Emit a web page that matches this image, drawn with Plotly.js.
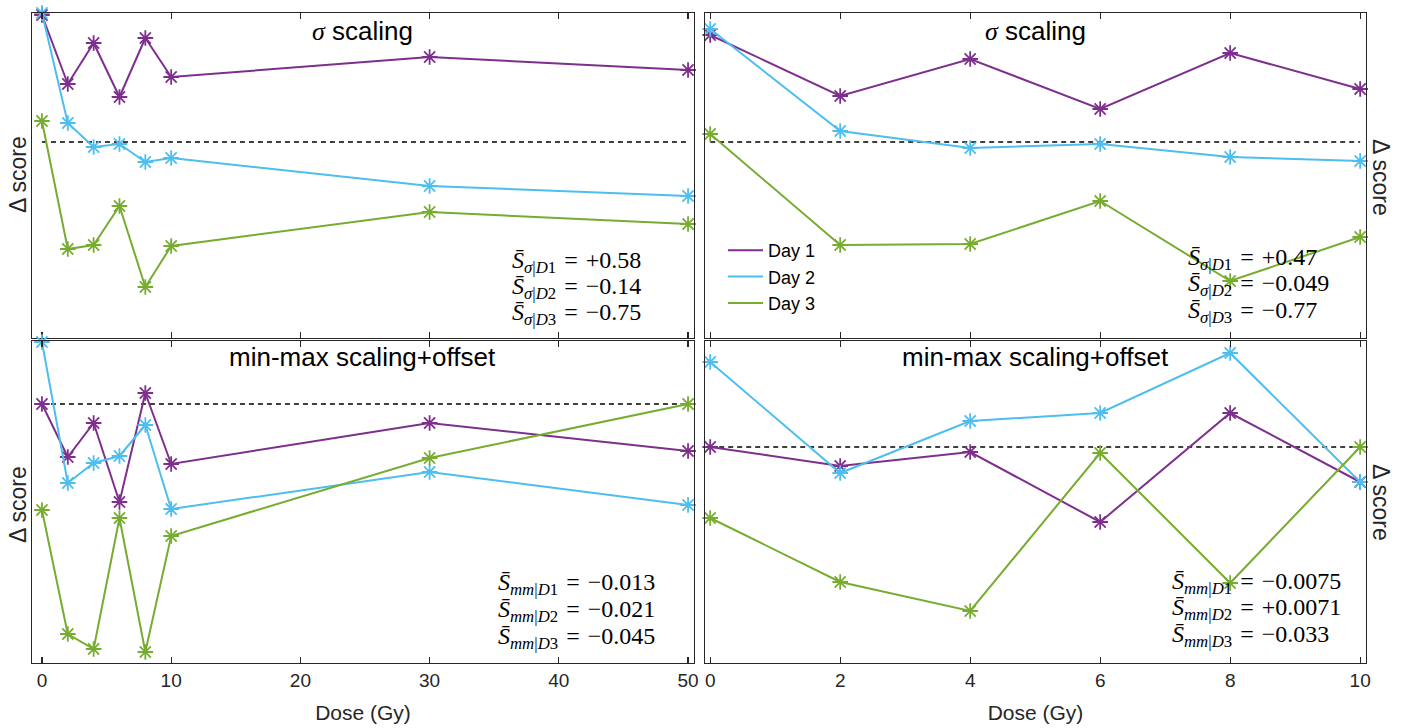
<!DOCTYPE html>
<html>
<head>
<meta charset="utf-8">
<script src="https://cdn.plot.ly/plotly-3.0.1.min.js"></script>
<style>
  html, body { margin: 0; padding: 0; background: #fff; }
  #chart { width: 1408px; height: 728px; }
</style>
</head>
<body>
<div id="chart"></div>
<script>
// Dose levels (Gy)
const doseWide = [0, 2, 4, 6, 8, 10, 30, 50];
const doseNarrow = [0, 2, 4, 6, 8, 10];

// Δ score, sigma scaling, full dose range
const sigmaWideDay1 = [1.27, 0.58, 0.99, 0.45, 1.04, 0.65, 0.85, 0.72];
const sigmaWideDay2 = [1.29, 0.19, -0.05, -0.02, -0.20, -0.16, -0.44, -0.54];
const sigmaWideDay3 = [0.21, -1.07, -1.03, -0.64, -1.45, -1.04, -0.70, -0.82];

// Δ score, sigma scaling, 0-10 Gy
const sigmaNarrowDay1 = [1.07, 0.46, 0.83, 0.33, 0.89, 0.53];
const sigmaNarrowDay2 = [1.13, 0.11, -0.06, -0.02, -0.15, -0.19];
const sigmaNarrowDay3 = [0.08, -1.03, -1.02, -0.59, -1.39, -0.95];

// Δ score, min-max scaling + offset, full dose range
const mmWideDay1 = [0.00, -0.53, -0.19, -0.98, 0.11, -0.60, -0.19, -0.47];
const mmWideDay2 = [0.62, -0.79, -0.59, -0.52, -0.21, -1.05, -0.68, -1.01];
const mmWideDay3 = [-1.06, -2.30, -2.45, -1.14, -2.48, -1.32, -0.54, 0.00];

// Δ score, min-max scaling + offset, 0-10 Gy
const mmNarrowDay1 = [0.00, -0.19, -0.05, -0.75, 0.34, -0.35];
const mmNarrowDay2 = [0.85, -0.26, 0.26, 0.34, 0.94, -0.35];
const mmNarrowDay3 = [-0.71, -1.35, -1.64, -0.06, -1.36, 0.00];

// Mean score per day, printed in each panel
const sigmaWideMeans = ["+0.58", "\u22120.14", "\u22120.75"];
const sigmaNarrowMeans = ["+0.47", "\u22120.049", "\u22120.77"];
const mmWideMeans = ["\u22120.013", "\u22120.021", "\u22120.045"];
const mmNarrowMeans = ["\u22120.0075", "+0.0071", "\u22120.033"];

const dayNames = ["Day 1", "Day 2", "Day 3"];
const dayColors = ["#7E2F8E", "#4DBEEE", "#77AC30"];

const W = 1408, H = 728;
const px = v => v / W;
const py = v => 1 - v / H;

const panels = [
  { ax: "", dose: doseWide, days: [sigmaWideDay1, sigmaWideDay2, sigmaWideDay3],
    means: sigmaWideMeans, sym: "<i>\u03c3</i>", legend: false },
  { ax: "2", dose: doseNarrow, days: [sigmaNarrowDay1, sigmaNarrowDay2, sigmaNarrowDay3],
    means: sigmaNarrowMeans, sym: "<i>\u03c3</i>", legend: true },
  { ax: "3", dose: doseWide, days: [mmWideDay1, mmWideDay2, mmWideDay3],
    means: mmWideMeans, sym: "<i>mm</i>", legend: false },
  { ax: "4", dose: doseNarrow, days: [mmNarrowDay1, mmNarrowDay2, mmNarrowDay3],
    means: mmNarrowMeans, sym: "<i>mm</i>", legend: false }
];

const traces = [];
panels.forEach(p => {
  const xa = "x" + p.ax, ya = "y" + p.ax;
  // zero reference
  traces.push({
    x: [p.dose[0], p.dose[p.dose.length - 1]], y: [0, 0],
    xaxis: xa, yaxis: ya, mode: "lines", showlegend: false, hoverinfo: "skip",
    line: { color: "#000", width: 1.4, dash: "5px,4px" }
  });
  p.days.forEach((vals, i) => {
    traces.push({
      x: p.dose, y: vals, xaxis: xa, yaxis: ya, mode: "lines",
      name: dayNames[i], showlegend: p.legend,
      line: { color: dayColors[i], width: 2 }, cliponaxis: false
    });
    traces.push({
      x: p.dose, y: vals, xaxis: xa, yaxis: ya, mode: "markers",
      showlegend: false, cliponaxis: false,
      marker: { symbol: "asterisk-open", size: 13, color: dayColors[i],
                line: { color: dayColors[i], width: 1.8 } }
    });
  });
});

const sansFont = "Liberation Sans, Arial, sans-serif";
const serifFont = "Liberation Serif, Times New Roman, serif";
const axisColor = "#262626";

const xCommon = {
  showline: true, linecolor: axisColor, linewidth: 1.3, mirror: "ticks",
  ticks: "inside", ticklen: 6, tickwidth: 1.3, tickcolor: axisColor,
  showgrid: false, zeroline: false,
  tickfont: { family: sansFont, size: 19, color: axisColor }
};
const yCommon = {
  showline: true, linecolor: axisColor, linewidth: 1.3, mirror: true,
  ticks: "", showticklabels: false, showgrid: false, zeroline: false
};

const leftDom = [px(32), px(694)];
const rightDom = [px(705), px(1366)];
const topDom = [py(338), py(13)];
const botDom = [py(663), py(341)];
const wideRange = [-0.77, 50.46];
const narrowRange = [-0.08, 10.09];
const doseTitle = { text: "Dose (Gy)", font: { family: sansFont, size: 21, color: axisColor }, standoff: 15 };

const layout = {
  width: W, height: H,
  margin: { l: 0, r: 0, t: 0, b: 0 },
  paper_bgcolor: "#fff", plot_bgcolor: "#fff",
  showlegend: true,
  legend: {
    x: px(723), y: py(232), xanchor: "left", yanchor: "top",
    bgcolor: "rgba(0,0,0,0)", borderwidth: 0, tracegroupgap: 0, itemwidth: 35,
    font: { family: sansFont, size: 18, color: "#000" }
  },
  xaxis: Object.assign({}, xCommon, { domain: leftDom, range: wideRange, anchor: "y",
    tickvals: [0, 10, 20, 30, 40, 50], showticklabels: false }),
  yaxis: Object.assign({}, yCommon, { domain: topDom, range: [-1.96, 1.29], anchor: "x" }),
  xaxis2: Object.assign({}, xCommon, { domain: rightDom, range: narrowRange, anchor: "y2",
    tickvals: doseNarrow, showticklabels: false }),
  yaxis2: Object.assign({}, yCommon, { domain: topDom, range: [-1.96, 1.29], anchor: "x2" }),
  xaxis3: Object.assign({}, xCommon, { domain: leftDom, range: wideRange, anchor: "y3",
    tickvals: [0, 10, 20, 30, 40, 50], title: doseTitle }),
  yaxis3: Object.assign({}, yCommon, { domain: botDom, range: [-2.59, 0.63], anchor: "x3" }),
  xaxis4: Object.assign({}, xCommon, { domain: rightDom, range: narrowRange, anchor: "y4",
    tickvals: doseNarrow, title: doseTitle }),
  yaxis4: Object.assign({}, yCommon, { domain: botDom, range: [-2.16, 1.06], anchor: "x4" }),
  annotations: []
};

const ann = layout.annotations;
const centered = { xref: "paper", yref: "paper", xanchor: "center", yanchor: "middle", showarrow: false };
const titleFont = { family: sansFont, size: 26, color: "#000" };
const sigmaTitle = "<span style='font-family:" + serifFont + "'><i>\u03c3</i></span> scaling";
ann.push(Object.assign({ text: sigmaTitle, x: px(362), y: py(31), font: titleFont }, centered));
ann.push(Object.assign({ text: sigmaTitle, x: px(1035), y: py(31), font: titleFont }, centered));
ann.push(Object.assign({ text: "min-max scaling+offset", x: px(362), y: py(357), font: titleFont }, centered));
ann.push(Object.assign({ text: "min-max scaling+offset", x: px(1035), y: py(357), font: titleFont }, centered));

// y-axis labels: left side reads upward, right side reads downward
const yLabFont = { family: sansFont, size: 23, color: axisColor };
[[18, 175, -90], [18, 505, -90], [1381, 177, 90], [1381, 502, 90]].forEach(([xx, yy, ang]) => {
  ann.push(Object.assign({ text: "\u0394 score", x: px(xx), y: py(yy), textangle: ang, font: yLabFont }, centered));
});

// mean-score captions
const statPos = [
  { x: 510, ys: [262, 288, 314] },
  { x: 1186, ys: [259, 285, 312] },
  { x: 496, ys: [584, 611, 638] },
  { x: 1170, ys: [583, 609, 636] }
];
const statFont = { family: serifFont, size: 24, color: "#000" };
const eqSign = "\u2004=\u2004";
panels.forEach((p, k) => {
  p.means.forEach((m, i) => {
    const txt = "<i>S\u0304</i><sub>" + p.sym + "|<i>D</i>" + (i + 1) + "</sub>" + eqSign + m;
    ann.push({ text: txt, x: px(statPos[k].x), y: py(statPos[k].ys[i]), xref: "paper", yref: "paper",
               xanchor: "left", yanchor: "middle", showarrow: false, font: statFont });
  });
});

Plotly.newPlot("chart", traces, layout, { staticPlot: true, displayModeBar: false });
</script>
</body>
</html>
